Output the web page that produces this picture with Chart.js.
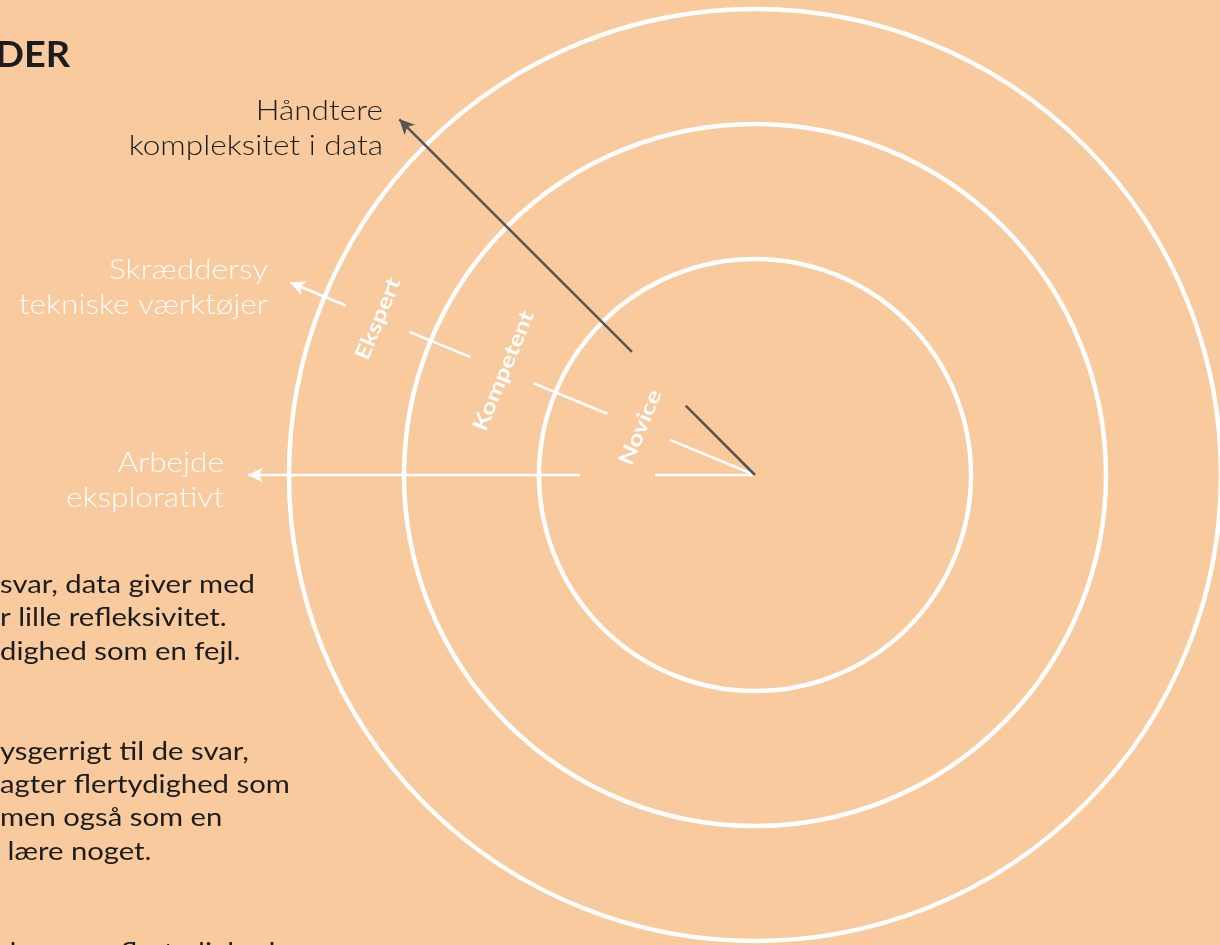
<!DOCTYPE html>
<html>
<head>
<meta charset="utf-8">
<script src="https://cdn.jsdelivr.net/npm/chart.js@4.4.1/dist/chart.umd.min.js"></script>
<style>
html, body { margin: 0; padding: 0; background: #F8CA9D; overflow: hidden; }
#wrap { width: 1220px; height: 945px; position: relative; }
</style>
</head>
<body>
<div id="wrap"><canvas id="kompetence-chart"></canvas></div>
<script>
/*********************************************************************/
/*****************************  Data  ********************************/
/*********************************************************************/
// rings, inner to outer, radius in diagram units (1 unit = 1 px)
var rings = ['Novice', 'Kompetent', 'Ekspert'];
var ringRadius = [216, 351, 466];
var ringLabelRadius = [124, 272, 408];

// arrows, angle in degrees above the horizontal, pointing left
var arrowNames = [['Håndtere', 'kompleksitet i data'], ['Skræddersy', 'tekniske værktøjer'], ['Arbejde', 'eksplorativt']];
var arrowAngle = [45, 22.5, 0];
var arrowSegments = [
    [[0, 98], [174, 503]],
    [[0, 92], [160, 240], [308, 374], [443, 503]],
    [[0, 100], [175, 507]]
];

var title = 'DER';
var bodyLines = [
    'svar, data giver med',
    'r lille refleksivitet.',
    'dighed som en fejl.',
    'ysgerrigt til de svar,',
    'agter flertydighed som',
    'men også som en',
    ' lære noget.',
    'dersøger flertydigheden'
];

/*****************************  Style  *******************************/
var bg = '#F8CA9D';
var dark = '#1c1c1c';
var arrowColor = ['#555555', '#ffffff', '#ffffff'];
var arrowLabelColor = [dark, '#ffffff', '#ffffff'];
var arrowLabelPos = [[383, 120], [268, 279], [224, 472]];
var bodyY = [585, 618, 652, 752, 785, 818, 852, 953];
var uiFont = 'Lato, "Noto Sans", sans-serif';
var stretch = 1.17;   // Lato is narrower than the original typeface

function polar(r, deg) {
    var a = deg * Math.PI / 180;
    return { x: -r * Math.cos(a), y: r * Math.sin(a) };
}

function wideText(ctx, text, x, y, sx) {
    ctx.save();
    ctx.translate(x, y);
    ctx.scale(sx, 1);
    ctx.fillText(text, 0, 0);
    ctx.restore();
}

/****************************  Datasets  *****************************/
var datasets = [];
for (i = 0; i < arrowSegments.length; i++) {
    for (j = 0; j < arrowSegments[i].length; j++) {
        var seg = arrowSegments[i][j];
        datasets.push({
            type: 'line',
            data: [polar(seg[0], arrowAngle[i]), polar(seg[1], arrowAngle[i])],
            borderColor: arrowColor[i],
            borderWidth: 2.5,
            pointRadius: 0,
            clip: false
        });
    }
}
for (i = 0; i < ringRadius.length; i++) {
    (function(r) {
        datasets.push({
            type: 'scatter',
            data: [{ x: 0, y: 0 }],
            backgroundColor: 'rgba(0,0,0,0)',
            borderColor: '#ffffff',
            borderWidth: 4.5,
            pointRadius: function(ctx) {
                var sx = ctx.chart.scales.x;
                return sx.getPixelForValue(r) - sx.getPixelForValue(0);
            },
            clip: false
        });
    })(ringRadius[i]);
}

/****************************  Plugins  ******************************/
var decorations = {
    id: 'decorations',
    beforeDraw: function(chart) {
        var ctx = chart.ctx;
        ctx.save();
        ctx.fillStyle = bg;
        ctx.fillRect(0, 0, chart.width, chart.height);
        ctx.restore();
    },
    afterDraw: function(chart) {
        var ctx = chart.ctx, sx = chart.scales.x, sy = chart.scales.y;
        ctx.save();
        // arrow heads
        for (i = 0; i < arrowSegments.length; i++) {
            var segs = arrowSegments[i];
            var tipR = segs[segs.length - 1][1];
            var tip = polar(tipR, arrowAngle[i]);
            var px = sx.getPixelForValue(tip.x), py = sy.getPixelForValue(tip.y);
            ctx.save();
            ctx.translate(px, py);
            ctx.rotate(arrowAngle[i] * Math.PI / 180);
            ctx.fillStyle = arrowColor[i];
            ctx.beginPath();
            ctx.moveTo(0, 0);
            ctx.lineTo(15, -7.5);
            ctx.lineTo(11, 0);
            ctx.lineTo(15, 7.5);
            ctx.closePath();
            ctx.fill();
            ctx.restore();
        }
        // arrow labels
        ctx.textAlign = 'right';
        ctx.textBaseline = 'alphabetic';
        ctx.font = '300 27px ' + uiFont;
        for (i = 0; i < arrowNames.length; i++) {
            ctx.fillStyle = arrowLabelColor[i];
            for (j = 0; j < arrowNames[i].length; j++) {
                wideText(ctx, arrowNames[i][j], arrowLabelPos[i][0], arrowLabelPos[i][1] + j * 35, stretch);
            }
        }
        // ring labels, rotated along the circle
        ctx.font = 'bold 21px ' + uiFont;
        ctx.fillStyle = '#ffffff';
        ctx.textAlign = 'center';
        ctx.textBaseline = 'middle';
        for (i = 0; i < rings.length; i++) {
            var p = polar(ringLabelRadius[i], arrowAngle[1]);
            ctx.save();
            ctx.translate(sx.getPixelForValue(p.x), sy.getPixelForValue(p.y));
            ctx.rotate(-(90 - arrowAngle[1]) * Math.PI / 180);
            ctx.scale(1.22, 1);
            ctx.fillText(rings[i], 0, 0);
            ctx.restore();
        }
        // title + body text (cut at the left edge)
        ctx.fillStyle = dark;
        ctx.textAlign = 'right';
        ctx.font = 'bold 36px ' + uiFont;
        wideText(ctx, title, 70, 55, 1.05);
        ctx.textAlign = 'left';
        ctx.font = '400 25px ' + uiFont;
        for (i = 0; i < bodyLines.length; i++) {
            wideText(ctx, bodyLines[i], 0, bodyY[i], stretch);
        }
        ctx.restore();
    }
};

/****************************  On Ready  *****************************/
var chart = new Chart(document.getElementById('kompetence-chart'), {
    type: 'scatter',
    data: { datasets: datasets },
    options: {
        responsive: true,
        maintainAspectRatio: false,
        animation: false,
        events: [],
        layout: { padding: 0 },
        plugins: { legend: { display: false }, tooltip: { enabled: false } },
        scales: {
            x: { type: 'linear', min: -755, max: 465, display: false },
            y: { type: 'linear', min: -470, max: 475, display: false }
        }
    },
    plugins: [decorations]
});
</script>
</body>
</html>
